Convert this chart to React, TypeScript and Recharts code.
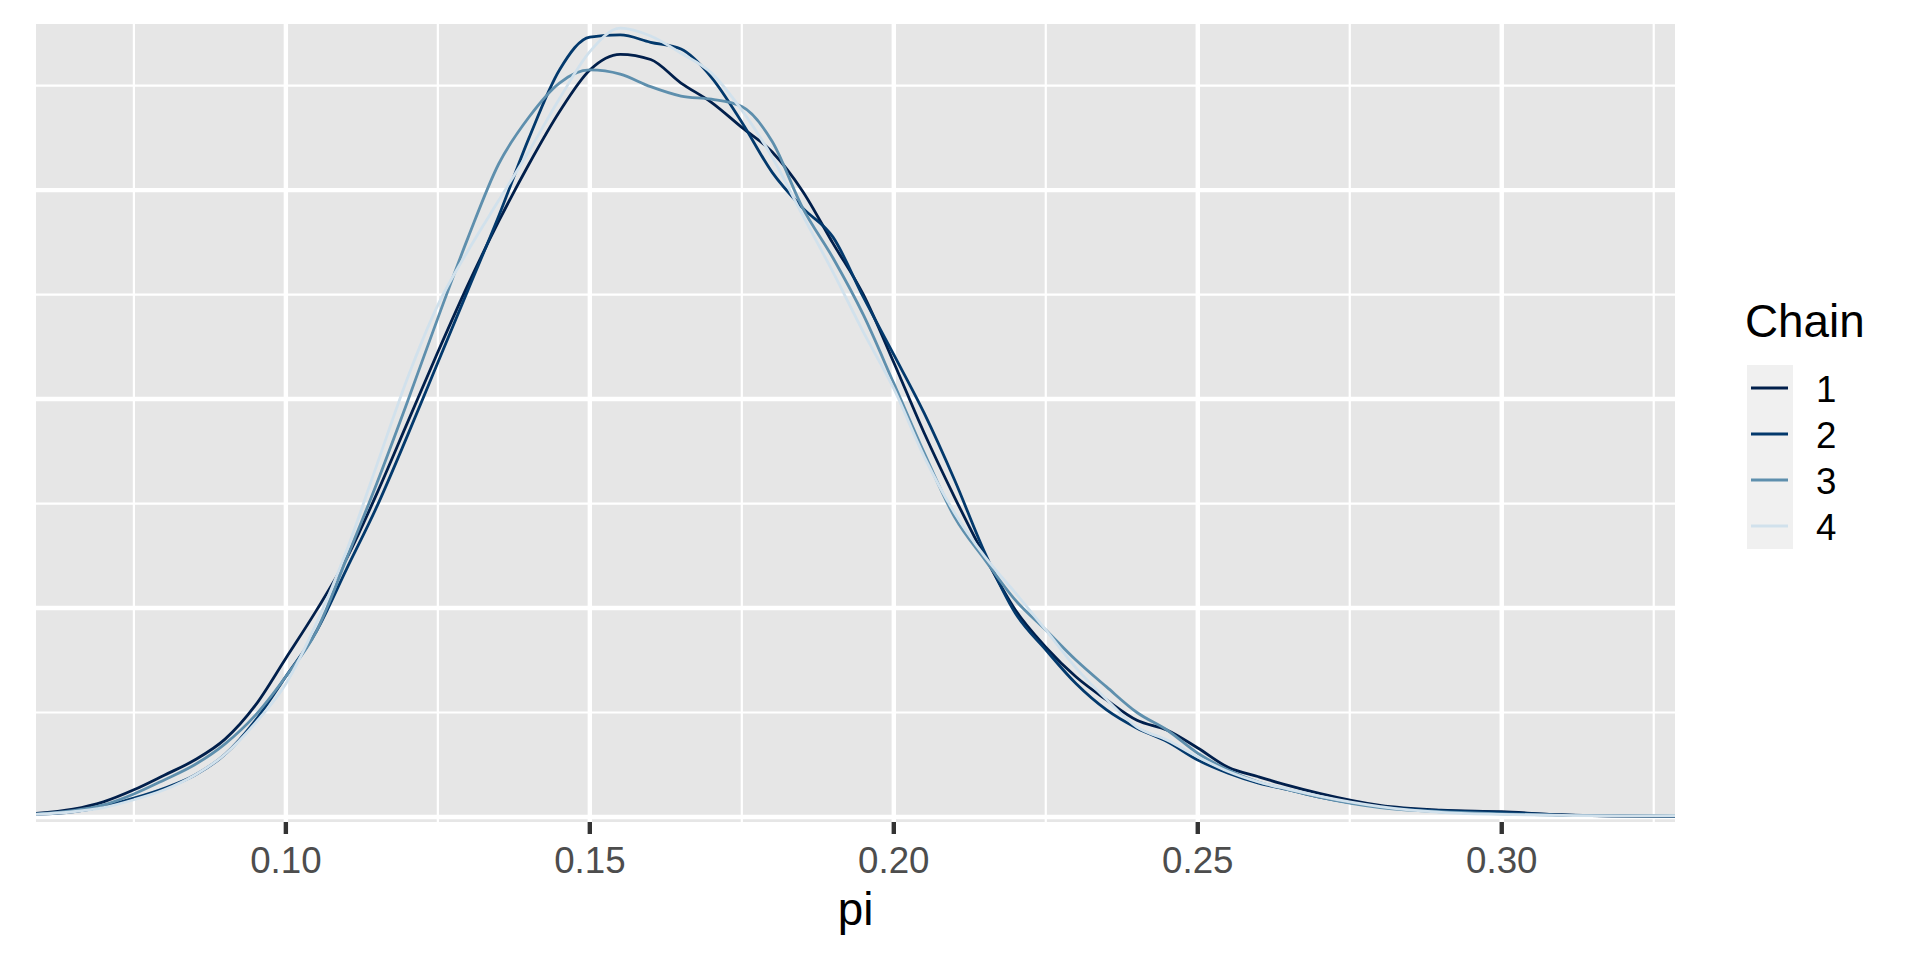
import { LineChart, Line, XAxis, YAxis, CartesianGrid, Legend } from "recharts";

const FONT = '"Liberation Sans", Arial, Helvetica, sans-serif';

// posterior draws of pi, kernel density per chain
const piGrid = [
  0.0589, 0.065, 0.07, 0.075, 0.08, 0.085, 0.09, 0.095, 0.1, 0.105, 0.11, 0.115, 0.12, 0.125,
  0.13, 0.135, 0.14, 0.145, 0.15, 0.155, 0.16, 0.165, 0.17, 0.175, 0.18, 0.185, 0.19, 0.195,
  0.2, 0.205, 0.21, 0.215, 0.22, 0.225, 0.23, 0.235, 0.24, 0.245, 0.25, 0.255, 0.26, 0.265,
  0.27, 0.28, 0.29, 0.3, 0.31, 0.32, 0.3285,
];
const chain1 = [
  0.07, 0.15, 0.29, 0.52, 0.8, 1.09, 1.49, 2.14, 3.04, 3.95, 4.95, 6.2, 7.55, 8.9,
  10.2, 11.4, 12.5, 13.5, 14.3, 14.6, 14.5, 14.05, 13.68, 13.2, 12.73, 11.98, 10.98, 10.0,
  8.7, 7.35, 6.12, 4.98, 3.96, 3.25, 2.68, 2.24, 1.85, 1.66, 1.32, 0.95, 0.77, 0.6,
  0.45, 0.22, 0.13, 0.1, 0.04, 0.015, 0.01,
];
const chain2 = [
  0.05, 0.1, 0.2, 0.36, 0.55, 0.8, 1.2, 1.85, 2.69, 3.55, 4.75, 5.95, 7.3, 8.7,
  10.1, 11.5, 13.0, 14.3, 14.93, 14.97, 14.83, 14.7, 14.16, 13.3, 12.34, 11.66, 11.1, 9.95,
  8.85, 7.73, 6.45, 5.05, 3.9, 3.2, 2.55, 2.05, 1.7, 1.44, 1.09, 0.84, 0.65, 0.52,
  0.38, 0.2, 0.12, 0.09, 0.04, 0.02, 0.01,
];
const chain3 = [
  0.06, 0.12, 0.23, 0.44, 0.71, 1.0, 1.4, 1.95, 2.69, 3.55, 4.95, 6.4, 7.95, 9.55,
  11.1, 12.5, 13.4, 14.05, 14.3, 14.22, 13.98, 13.8, 13.74, 13.6, 12.93, 11.66, 10.7, 9.61,
  8.3, 6.97, 5.74, 4.92, 4.15, 3.58, 3.0, 2.49, 2.0, 1.66, 1.22, 0.9, 0.67, 0.52,
  0.38, 0.18, 0.1, 0.06, 0.03, 0.02, 0.02,
];
const chain4 = [
  0.05, 0.1, 0.18, 0.33, 0.52, 0.8, 1.2, 1.8, 2.55, 3.7, 5.1, 6.75, 8.4, 9.8,
  10.85, 11.8, 12.75, 13.75, 14.65, 15.1, 14.95, 14.62, 14.24, 13.53, 12.63, 11.52, 10.43, 9.28,
  8.2, 6.9, 5.82, 4.98, 4.29, 3.58, 2.85, 2.25, 1.72, 1.47, 1.15, 0.87, 0.67, 0.53,
  0.4, 0.2, 0.09, 0.05, 0.03, 0.02, 0.02,
];

const chainNames = ["1", "2", "3", "4"];
const chainColors = ["#011f4b", "#03396c", "#5e8fad", "#d1e1ec"];

const xTicks = [0.1, 0.15, 0.2, 0.25, 0.3];
const xMinor = [0.075, 0.125, 0.175, 0.225, 0.275, 0.325];
const yMajor = [0, 4, 8, 12];
const yMinor = [2, 6, 10, 14];

const series = [chain1, chain2, chain3, chain4];
const rows = piGrid.map((pi, i) => {
  const row: Record<string, number> = { pi };
  series.forEach((s, k) => {
    row[`c${k + 1}`] = s[i];
  });
  return row;
});

const renderLegend = (props: any) => {
  const payload = props.payload ?? [];
  return (
    <svg width={200} height={270} style={{ display: "block", overflow: "visible" }}>
      <text x={25} y={47} fontSize={45.8} fontFamily={FONT} fill="#000">
        Chain
      </text>
      <rect x={27} y={75} width={46} height={46 * payload.length} fill="#F0F0F0" />
      {payload.map((p: any, i: number) => (
        <g key={p.value}>
          <line x1={31} x2={68} y1={98 + 46 * i} y2={98 + 46 * i} stroke={p.color} strokeWidth={2.8} />
          <text x={96} y={112 + 46 * i} fontSize={36.7} fontFamily={FONT} fill="#000">
            {p.value}
          </text>
        </g>
      ))}
    </svg>
  );
};

export default function App() {
  return (
    <div style={{ position: "absolute", left: 0, top: 0, background: "#fff", fontFamily: FONT }}>
      <LineChart width={1920} height={960} data={rows} margin={{ top: 24, right: 245, bottom: 23, left: 36 }}>
        <CartesianGrid fill="#E6E6E6" stroke="#fff" strokeWidth={2.2} horizontalValues={yMinor} verticalValues={xMinor} />
        <CartesianGrid stroke="#fff" strokeWidth={4.4} horizontalValues={yMajor} verticalValues={xTicks} />
        <XAxis
          dataKey="pi"
          type="number"
          domain={[0.0589, 0.3285]}
          allowDataOverflow
          ticks={xTicks}
          interval={0}
          tickFormatter={(v) => Number(v).toFixed(2)}
          axisLine={false}
          tickSize={12}
          tickMargin={13}
          tickLine={{ stroke: "#333333", strokeWidth: 4.4 }}
          tick={{ fontSize: 36.7, fill: "#4D4D4D", fontFamily: FONT }}
          height={115}
          label={{ value: "pi", position: "insideBottom", offset: 12, fill: "#000", fontSize: 45.8, fontFamily: FONT }}
        />
        <YAxis hide type="number" domain={[-0.096, 15.18]} allowDataOverflow />
        <Legend
          layout="vertical"
          align="center"
          verticalAlign="middle"
          wrapperStyle={{ left: 1720, top: 290 }}
          content={renderLegend}
        />
        {chainNames.map((name, k) => (
          <Line
            key={name}
            name={name}
            type="monotone"
            dataKey={`c${k + 1}`}
            stroke={chainColors[k]}
            strokeWidth={2.8}
            dot={false}
            activeDot={false}
            isAnimationActive={false}
          />
        ))}
      </LineChart>
    </div>
  );
}
